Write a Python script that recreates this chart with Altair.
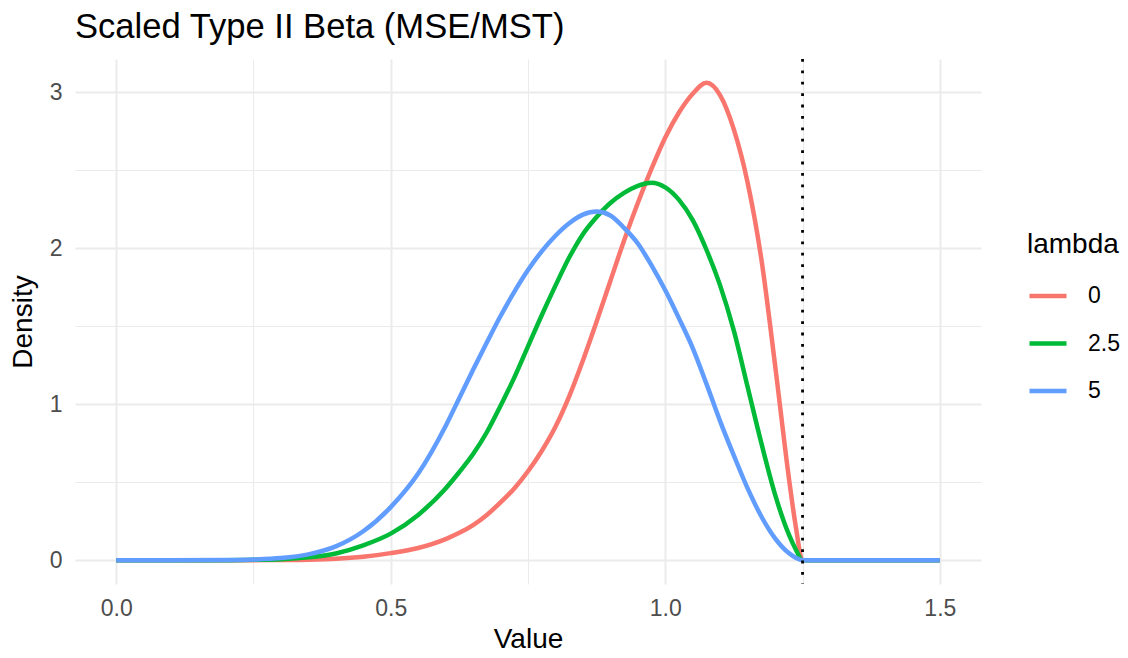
import altair as alt
import pandas as pd

# ---- data ----
x_vals = [0.0, 0.1, 0.2, 0.25, 0.3, 0.35, 0.4, 0.45, 0.5, 0.55, 0.6, 0.625, 0.65, 0.675,
          0.7, 0.725, 0.75, 0.775, 0.8, 0.825, 0.85, 0.875, 0.9, 0.925, 0.95, 0.975,
          1.0, 1.025, 1.05, 1.075, 1.1, 1.125, 1.15, 1.175, 1.2, 1.225, 1.2375, 1.25,
          1.3, 1.4, 1.5]

dens_lambda_0 = [0, 0, 0, 0, 0.001, 0.003, 0.009, 0.022, 0.045, 0.078, 0.135, 0.175, 0.225, 0.29,
                 0.37, 0.46, 0.57, 0.70, 0.855, 1.05, 1.28, 1.53, 1.79, 2.05, 2.29, 2.51,
                 2.71, 2.87, 2.99, 3.06, 2.98, 2.76, 2.42, 1.93, 1.25, 0.53, 0.22, 0,
                 0, 0, 0]

dens_lambda_25 = [0, 0, 0, 0.002, 0.006, 0.018, 0.043, 0.095, 0.17, 0.29, 0.46, 0.565, 0.68, 0.82,
                  0.99, 1.17, 1.37, 1.57, 1.76, 1.94, 2.09, 2.20, 2.29, 2.355, 2.40, 2.42,
                  2.39, 2.31, 2.18, 1.99, 1.76, 1.47, 1.11, 0.75, 0.42, 0.165, 0.07, 0,
                  0, 0, 0]

dens_lambda_5 = [0, 0, 0.001, 0.004, 0.013, 0.037, 0.088, 0.185, 0.34, 0.555, 0.86, 1.04, 1.22, 1.395,
                 1.565, 1.72, 1.86, 1.98, 2.08, 2.16, 2.215, 2.235, 2.21, 2.13, 2.03, 1.89,
                 1.73, 1.55, 1.36, 1.13, 0.89, 0.67, 0.46, 0.28, 0.14, 0.045, 0.015, 0,
                 0, 0, 0]

lambda_labels = ["0", "2.5", "5"]
lambda_colors = ["#F8766D", "#00BA38", "#619CFF"]

x_ticks = [0.0, 0.25, 0.5, 0.75, 1.0, 1.25, 1.5]
y_ticks = [0, 0.5, 1, 1.5, 2, 2.5, 3]
cutoff = [1.25]

rows = []
for lab, ys in zip(lambda_labels, [dens_lambda_0, dens_lambda_25, dens_lambda_5]):
    for i, (xv, yv) in enumerate(zip(x_vals, ys)):
        rows.append({"Value": xv, "Density": yv, "lambda": lab, "idx": i})
df = pd.DataFrame(rows)
df_cut = pd.DataFrame({"Value": cutoff})

FONT = "Liberation Sans"

x_scale = alt.Scale(domain=[-0.075, 1.575], nice=False, zero=False)
y_scale = alt.Scale(domain=[-0.153, 3.213], nice=False, zero=False)

grid_w_x = {"condition": {"test": "abs(datum.value % 0.5) < 0.001", "value": 2}, "value": 1.1}
grid_w_y = {"condition": {"test": "abs(datum.value % 1) < 0.001", "value": 2}, "value": 1.1}

x_axis = alt.Axis(
    values=x_ticks,
    labelExpr="abs(datum.value % 0.5) < 0.001 ? format(datum.value, '.1f') : ''",
    title="Value", titleFontSize=28, titleFontWeight="normal", titleColor="black",
    titleX=453, titleY=63, titleBaseline="alphabetic", titleAlign="center",
    labelFontSize=23, labelColor="#4D4D4D", labelPadding=13, labelBaseline="top",
    grid=True, gridColor="#EBEBEB", gridWidth=grid_w_x,
    domain=False, ticks=False, tickSize=0, labelFlush=False, labelOverlap=False,
)
y_axis = alt.Axis(
    values=y_ticks,
    labelExpr="abs(datum.value % 1) < 0.001 ? format(datum.value, 'd') : ''",
    title="Density", titleFontSize=28, titleFontWeight="normal", titleColor="black",
    titleAngle=270, titleX=-52, titleY=262.5, titleAlign="center", titleBaseline="middle",
    labelFontSize=23, labelColor="#4D4D4D", labelPadding=13, labelAlign="right",
    labelBaseline="middle",
    grid=True, gridColor="#EBEBEB", gridWidth=grid_w_y,
    domain=False, ticks=False, tickSize=0, labelFlush=False, labelOverlap=False,
)

lines = alt.Chart(df).mark_line(strokeWidth=4.5, interpolate="monotone").encode(
    x=alt.X("Value:Q", scale=x_scale, axis=x_axis),
    y=alt.Y("Density:Q", scale=y_scale, axis=y_axis),
    color=alt.Color(
        "lambda:N",
        scale=alt.Scale(domain=lambda_labels, range=lambda_colors),
        legend=alt.Legend(
            title="lambda", orient="none", legendX=952, legendY=172,
            titleFontSize=28, titleFontWeight="normal", titleColor="black", titleFont=FONT,
            labelFontSize=23, labelColor="black", labelFont=FONT,
            symbolType="stroke", symbolStrokeWidth=4.5, symbolSize=1369,
            labelOffset=19, rowPadding=14.5, titlePadding=16, padding=0,
        ),
    ),
    order=alt.Order("idx:Q"),
)

vline = alt.Chart(df_cut).mark_rule(
    color="black", strokeWidth=2.8, strokeDash=[2.8, 8.6]
).encode(
    x=alt.X("Value:Q", scale=x_scale, axis=x_axis),
)

chart = alt.layer(lines, vline).properties(
    width=906,
    height=525,
    title=alt.TitleParams(
        text="Scaled Type II Beta (MSE/MST)", fontSize=34.6, fontWeight="normal",
        anchor="start", frame="group", offset=19, baseline="alphabetic", dy=34,
        color="black", font=FONT,
    ),
    autosize=alt.AutoSizeParams(type="none"),
    padding={"left": 67, "top": 51, "right": 139, "bottom": 72},
).configure(
    font=FONT,
).configure_view(
    stroke=None,
)

chart.save("out.html", embed_options={"renderer": "svg", "actions": False})
